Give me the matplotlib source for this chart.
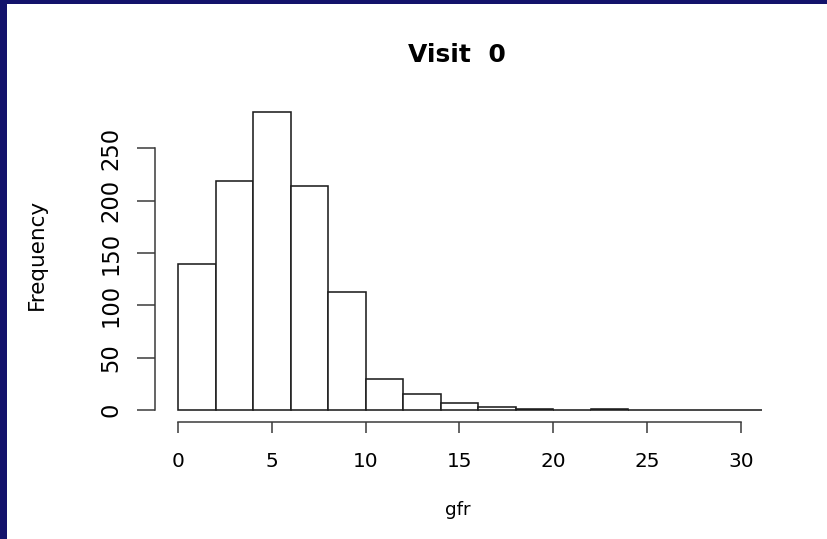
import matplotlib
matplotlib.use('agg')
import numpy             as np
import matplotlib.pyplot as plt
from matplotlib.patches import Rectangle

# histogram of gfr at visit 0 (bin edges, counts)
bin_edges = [0, 2, 4, 6, 8, 10, 12, 14, 16, 18, 20, 22, 24, 26, 28, 30, 31.1]
counts    = [139, 219, 285, 214, 113, 30, 15, 7, 3, 1, 0, 1, 0, 0, 0, 0]
x_ticks   = [0, 5, 10, 15, 20, 25, 30]
y_ticks   = [0, 50, 100, 150, 200, 250]
title     = 'Visit  0'
x_label   = 'gfr'
y_label   = 'Frequency'

W, H = 828, 539
navy = '#13126b'
axis_col = '#3a3a3a'

plt.rcParams['font.family'] = ['DejaVu Sans']

fig = plt.figure(figsize=(W / 100, H / 100), dpi=100)
fig.patch.set_facecolor('white')

# axes placed in pixel terms (from the top-left corner of the picture)
ax_left, ax_right, ax_top, ax_bottom = 155, 770, 100, 422
ax = fig.add_axes([ax_left / W, 1 - ax_bottom / H,
                   (ax_right - ax_left) / W, (ax_bottom - ax_top) / H])
ax.set_facecolor('white')

px_x = (741 - 178) / 30.0      # pixels per gfr unit
px_y = (410 - 148.3) / 250.0   # pixels per count
ax.set_xlim(-(178 - ax_left) / px_x, (ax_right - 178) / px_x)
ax.set_ylim(-(ax_bottom - 410) / px_y, (410 - ax_top) / px_y)

edges = np.array(bin_edges)
ax.bar(edges[:-1], counts, width=np.diff(edges), align='edge',
       facecolor='white', edgecolor='#1e1e1e', linewidth=1.15)

for s in ['top', 'right']:
    ax.spines[s].set_visible(False)
ax.spines['left'].set_bounds(0, 250)
ax.spines['bottom'].set_bounds(0, 30)
for s in ['left', 'bottom']:
    ax.spines[s].set_color(axis_col)
    ax.spines[s].set_linewidth(1.1)

ax.set_xticks(x_ticks)
ax.set_xticklabels([str(t) for t in x_ticks])
ax.set_yticks(y_ticks)
ax.set_yticklabels([str(t) for t in y_ticks], rotation=90, va='center')
ax.tick_params(axis='x', length=8, width=1.1, color=axis_col,
               pad=13.5, labelsize=14.4)
ax.tick_params(axis='y', length=13, width=1.1, color=axis_col,
               pad=10.5, labelsize=16.3)

fig.text(457 / W, 1 - 61.7 / H, title, ha='center', va='baseline',
         fontsize=18, fontweight='bold')
fig.text(457.5 / W, 1 - 515 / H, x_label, ha='center', va='baseline',
         fontsize=13.2)
fig.text(37 / W, 1 - 254 / H, y_label, ha='center', va='center',
         rotation=90, fontsize=15.5)

# navy frame on the top and left edges
fig.add_artist(Rectangle((0, 1 - 4 / H), 1, 4 / H, transform=fig.transFigure,
                         facecolor=navy, edgecolor='none'))
fig.add_artist(Rectangle((0, 0), 7 / W, 1, transform=fig.transFigure,
                         facecolor=navy, edgecolor='none'))

fig.savefig('out.png', dpi=100)
